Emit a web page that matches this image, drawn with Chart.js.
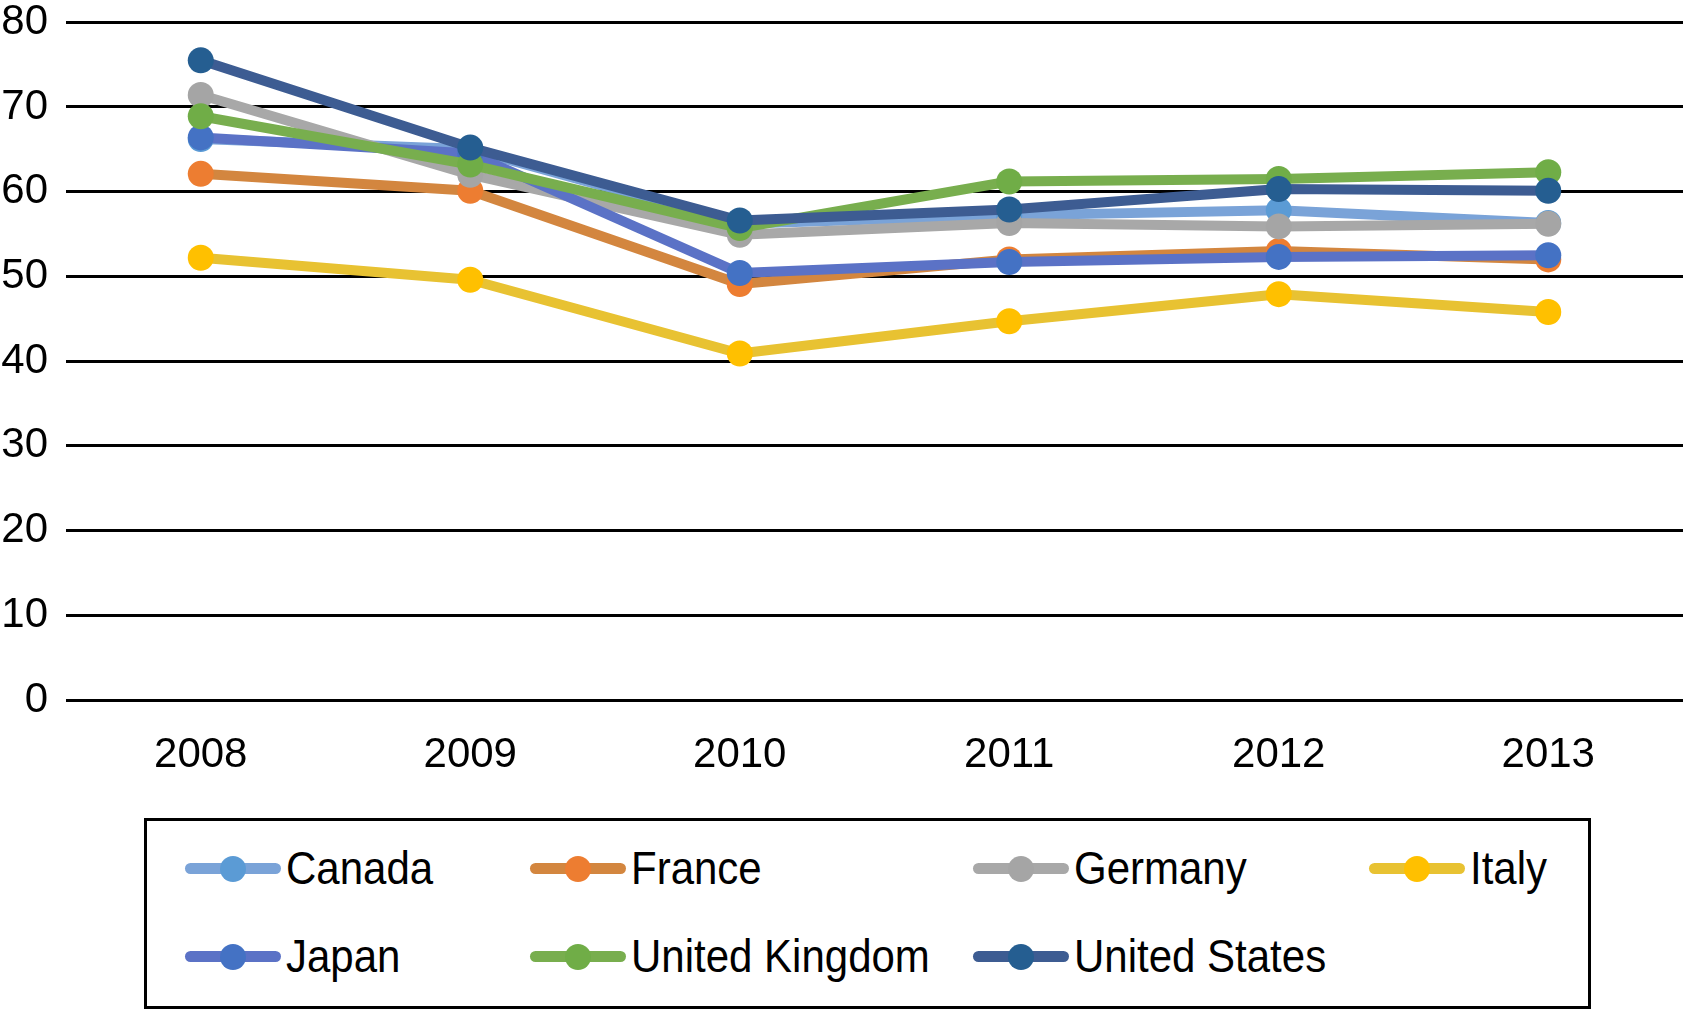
<!DOCTYPE html>
<html>
<head>
<meta charset="utf-8">
<script src="https://cdn.jsdelivr.net/npm/chart.js@4.4.0/dist/chart.umd.min.js"></script>
<style>
  html, body { margin: 0; padding: 0; background: #fff; }
  #wrap { position: relative; width: 1683px; height: 1011px; overflow: hidden; }
  #chartBox { position: absolute; left: 0; top: -21px; width: 1696px; height: 800px; }
  #legend { position: absolute; left: 144px; top: 818px; width: 1441px; height: 185px;
            border: 3px solid #000; font-family: "Liberation Sans", Arial, sans-serif; }
  .item { position: absolute; height: 40px; display: flex; align-items: center; }
  .sample { position: relative; width: 96px; height: 40px; }
  .sample .ln { position: absolute; left: 0; top: 14px; width: 96px; height: 11px; border-radius: 6px; }
  .sample .dot { position: absolute; left: 35px; top: 7px; width: 26px; height: 26px; border-radius: 50%; }
  .lbl { font-size: 42px; color: #000; margin-left: 5px; line-height: 40px; display: inline-block; transform: scaleY(1.1); }
</style>
</head>
<body>
<div id="wrap">
  <div id="chartBox"><canvas id="c"></canvas></div>
  <div id="legend"></div>
</div>
<script>
const years = ['2008', '2009', '2010', '2011', '2012', '2013'];
const seriesNames = ['Canada', 'France', 'Germany', 'Italy', 'Japan', 'United Kingdom', 'United States'];
const canada  = [66.2, 65.0, 56.2, 57.2, 57.8, 56.3];
const france  = [62.1, 60.1, 49.1, 52.0, 53.0, 52.0];
const germany = [71.4, 62.0, 54.9, 56.3, 55.9, 56.2];
const italy   = [52.2, 49.6, 40.9, 44.7, 47.9, 45.8];
const japan   = [66.4, 64.5, 50.4, 51.7, 52.3, 52.5];
const uk      = [68.9, 63.2, 55.7, 61.2, 61.5, 62.3];
const us      = [75.5, 65.2, 56.6, 57.9, 60.3, 60.1];
const yTicks  = [0, 10, 20, 30, 40, 50, 60, 70, 80];

const seriesValues = [canada, france, germany, italy, japan, uk, us];
const lineColors   = ['#7AA3D8', '#D3863F', '#A8A8A8', '#E8C232', '#5B72C6', '#78AE4E', '#3D5C92'];
const markerColors = ['#5B9BD5', '#ED7D31', '#A5A5A5', '#FFC000', '#4472C4', '#70AD47', '#255E91'];

const datasets = seriesNames.map((name, i) => ({
  label: name,
  data: seriesValues[i],
  borderColor: lineColors[i],
  backgroundColor: markerColors[i],
  pointBackgroundColor: markerColors[i],
  pointBorderWidth: 0,
  pointRadius: 13,
  pointHoverRadius: 13,
  borderWidth: 10,
  borderJoinStyle: 'round',
  borderCapStyle: 'round',
  tension: 0,
  order: seriesNames.length - i
}));

const canvas = document.getElementById('c');
canvas.width = 1696; canvas.height = 800;
new Chart(canvas, {
  type: 'line',
  data: { labels: years, datasets },
  options: {
    responsive: false,
    animation: false,
    devicePixelRatio: 1,
    layout: { padding: { left: 0, right: 0, top: 0, bottom: 0 } },
    plugins: { legend: { display: false }, tooltip: { enabled: false } },
    scales: {
      x: {
        offset: true,
        grid: { display: false, drawTicks: false },
        border: { display: false },
        ticks: { color: '#000', padding: 30, font: { family: '"Liberation Sans", Arial, sans-serif', size: 42 } },
        afterFit: s => { s.height = 79; }
      },
      y: {
        min: 0, max: 80,
        afterBuildTicks: s => { s.ticks = yTicks.map(v => ({ value: v })); },
        grid: { color: '#000', lineWidth: 3, drawTicks: false },
        border: { display: false },
        ticks: { color: '#000', padding: 18, font: { family: '"Liberation Sans", Arial, sans-serif', size: 42 } },
        afterFit: s => { s.width = 66; }
      }
    }
  }
});

// legend
const legendPos = [[185, 869], [530, 869], [973, 869], [1369, 869], [185, 957], [530, 957], [973, 957]];
const leg = document.getElementById('legend');
seriesNames.forEach((name, i) => {
  const it = document.createElement('div');
  it.className = 'item';
  it.style.left = (legendPos[i][0] - 144 - 3) + 'px';
  it.style.top = (legendPos[i][1] - 818 - 3 - 20) + 'px';
  it.innerHTML = '<div class="sample"><div class="ln" style="background:' + lineColors[i] +
    '"></div><div class="dot" style="background:' + markerColors[i] + '"></div></div><span class="lbl">' + name + '</span>';
  leg.appendChild(it);
});
</script>
</body>
</html>
